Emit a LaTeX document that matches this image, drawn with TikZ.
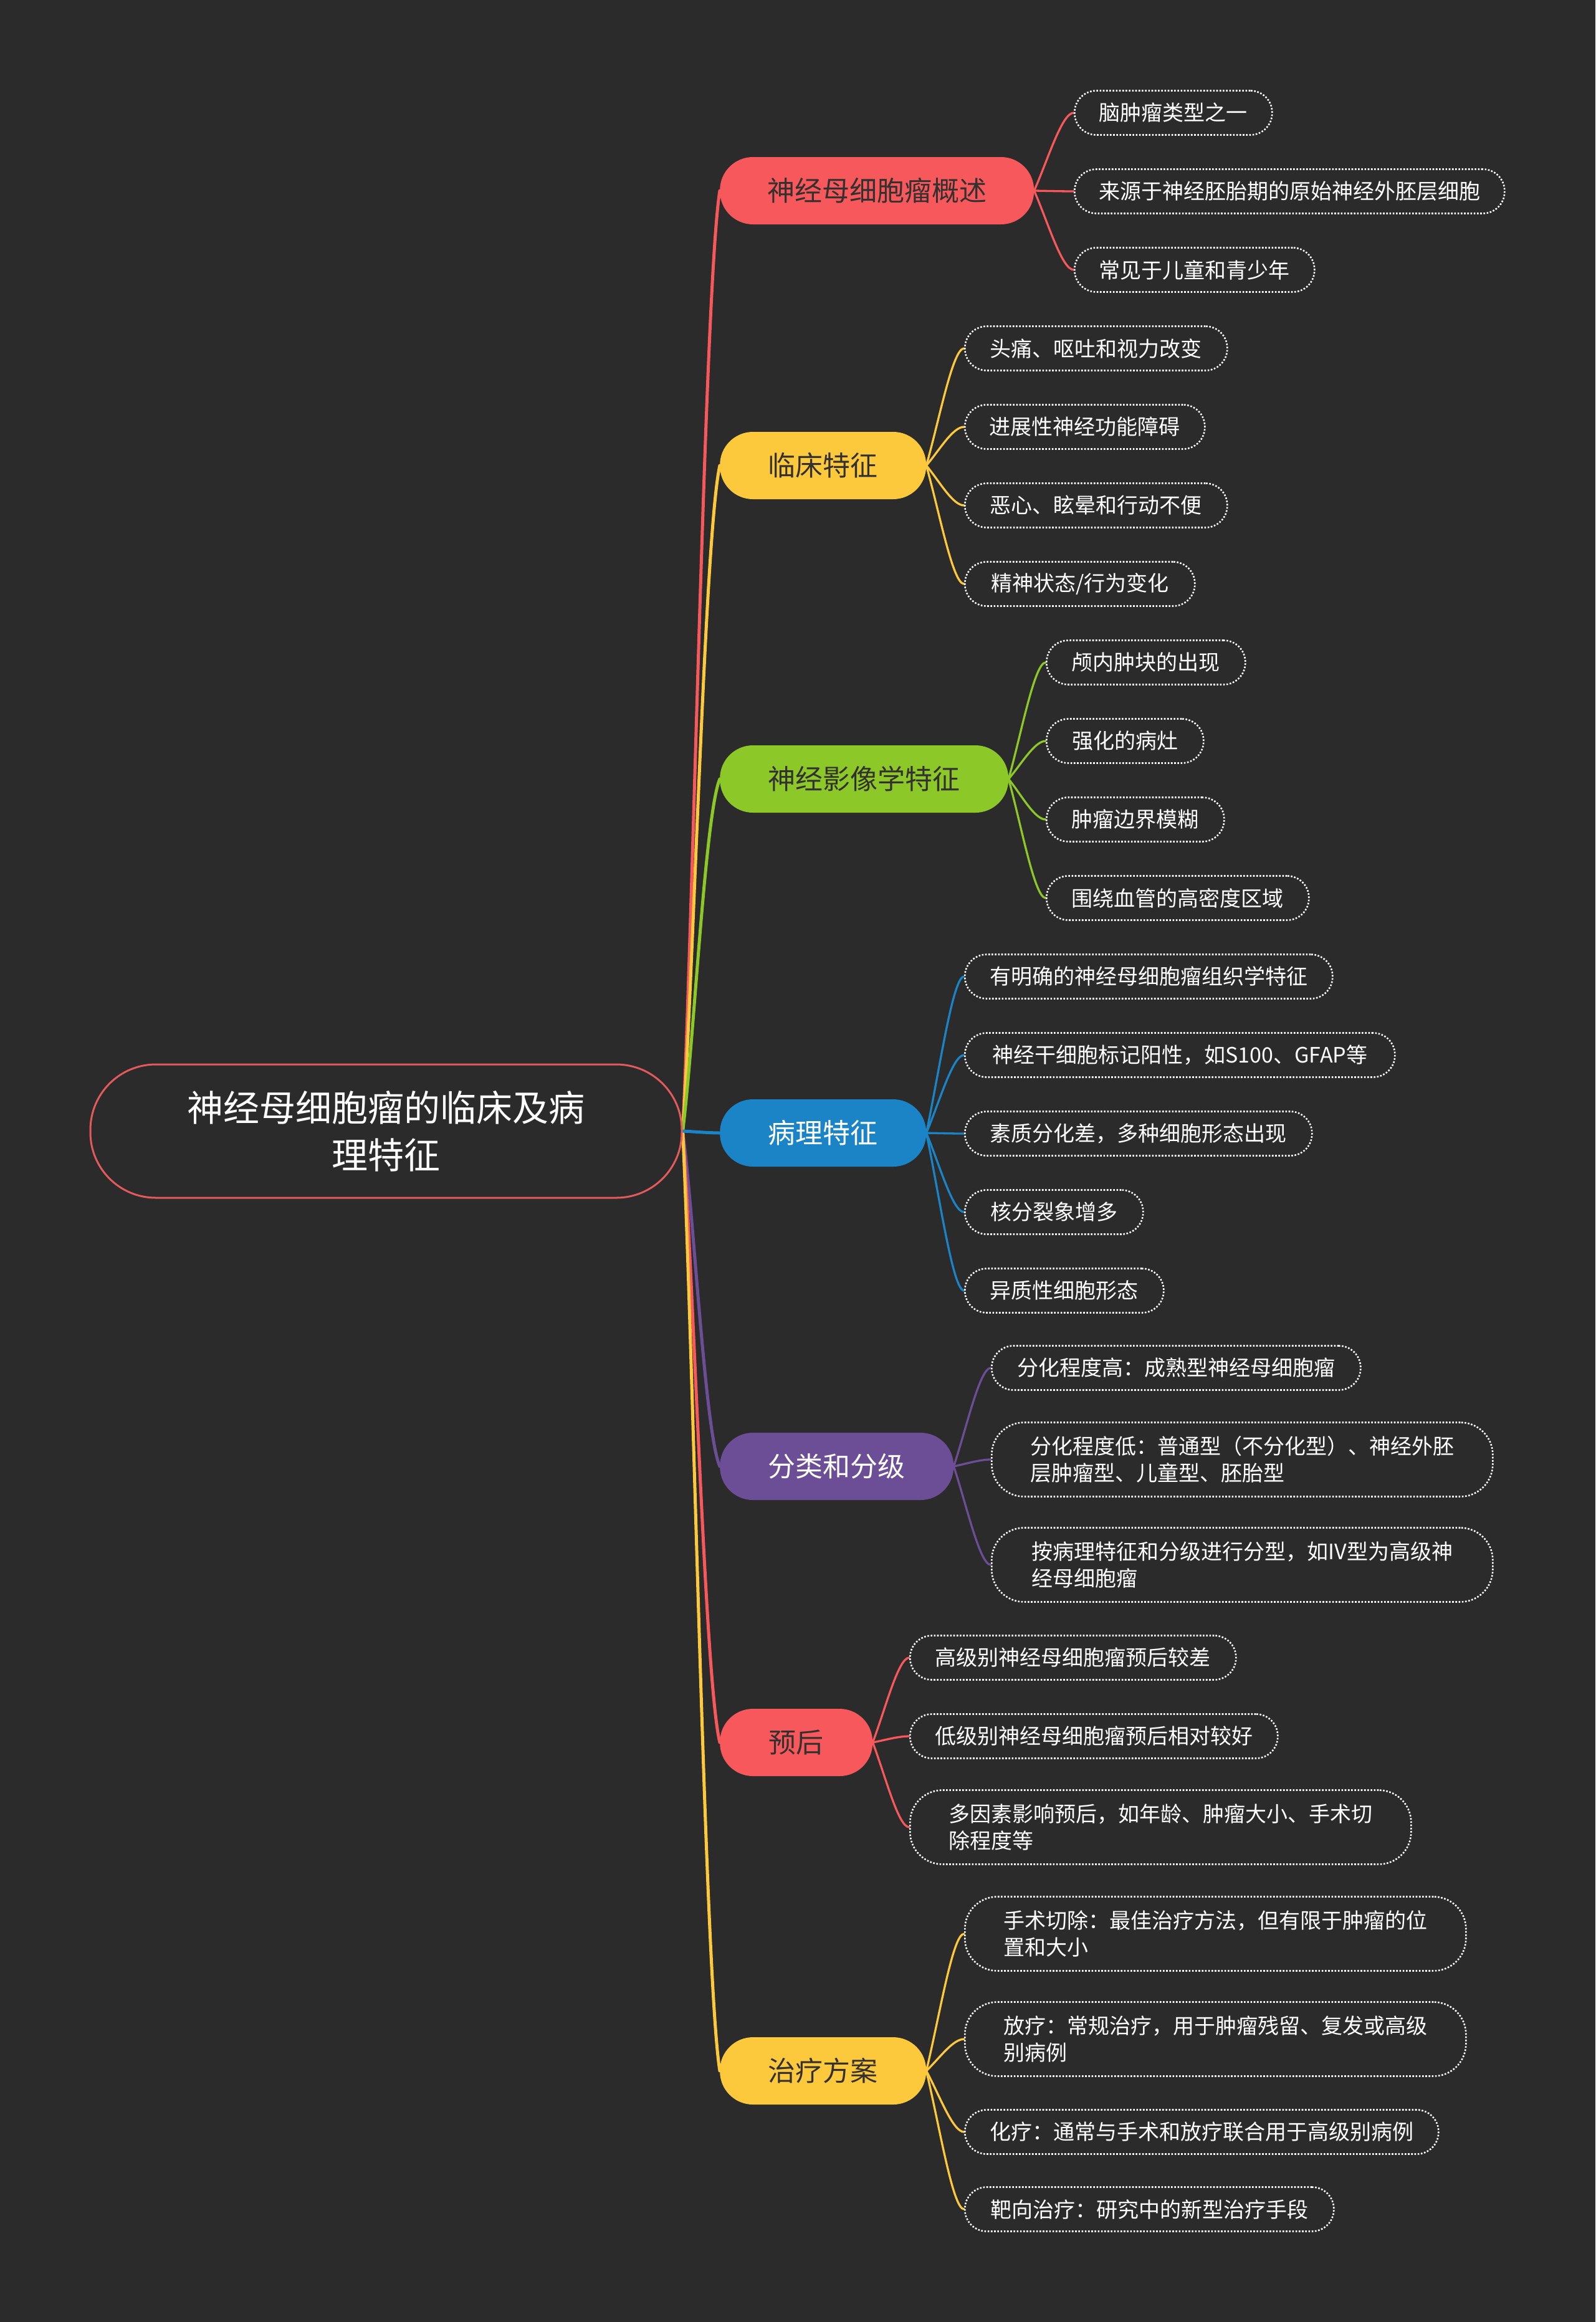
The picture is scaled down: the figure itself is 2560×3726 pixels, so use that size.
\documentclass[tikz,border=0pt]{standalone}
\usepackage{fontspec}
\setmainfont{Noto Sans CJK SC}
\usetikzlibrary{calc}
\definecolor{bgc}{HTML}{2B2B2B}
\definecolor{cred}{HTML}{F7585B}
\definecolor{cyel}{HTML}{FDC93C}
\definecolor{cgrn}{HTML}{8CC828}
\definecolor{cblu}{HTML}{1A84C7}
\definecolor{cpur}{HTML}{6C4E96}
\definecolor{rootred}{HTML}{E45A5C}
\definecolor{darktxt}{HTML}{333030}
\pgfdeclarelayer{bgl}
\pgfdeclarelayer{edgel}
\pgfsetlayers{bgl,edgel,main}
\tikzset{
  leaf/.style={draw=white, line width=2.6pt, dash pattern=on 2.6pt off 2.6pt,
    rounded corners=35pt, minimum height=71pt, inner xsep=20pt, inner ysep=0pt,
    text=white, font=\fontsize{34pt}{43pt}\selectfont, anchor=west, fill=bgc},
  leafm/.style={leaf, rounded corners=52pt, minimum height=119pt, align=left},
  branch/.style={rounded corners=53pt, minimum height=108pt, inner xsep=20pt,
    font=\fontsize{44pt}{52pt}\selectfont, anchor=west},
  rootnode/.style={draw=rootred, line width=3pt, rounded corners=105pt,
    minimum width=949pt, minimum height=214pt, text=white, align=center,
    fill=bgc, font=\fontsize{58pt}{76pt}\selectfont},
  rootedge/.style={line width=5pt, line cap=round},
  leafedge/.style={line width=3.3pt, line cap=round},
}
\newcommand\rootlink[2]{%
  \draw[rootedge,#2] let \p1=(root.east), \p2=(#1.west) in
    (\p1) .. controls ($(\p1)+({0.3*(\x2-\x1)},{0.25*(\y2-\y1)})$)
    and ($(\p1)+({0.6*(\x2-\x1)},{0.9*(\y2-\y1)})$) .. (\p2);}
\newcommand\leaflink[3]{%
  \draw[leafedge,#3] let \p1=(#1.east), \p2=(#2.west) in
    (\p1) .. controls ($(\p1)+({0.35*(\x2-\x1)},{0.4*(\y2-\y1)})$)
    and ($(\p1)+({0.7*(\x2-\x1)},{\y2-\y1})$) .. (\p2);}
\begin{document}
\begin{tikzpicture}[x=1pt,y=-1pt]
\useasboundingbox (0,0) rectangle (2560,3726);
\begin{pgfonlayer}{bgl}
\fill[bgc] (0,0) rectangle (2560,3726);
\end{pgfonlayer}

% root
\node[rootnode] (root) at (619.5,1815) {神经母细胞瘤的临床及病\\理特征};

% branches
\node[branch, fill=cred, text=darktxt, minimum width=504pt] (b1) at (1155,306) {神经母细胞瘤概述};
\node[branch, fill=cyel, text=darktxt, minimum width=331pt] (b2) at (1155,747) {临床特征};
\node[branch, fill=cgrn, text=darktxt, minimum width=463pt] (b3) at (1155,1250) {神经影像学特征};
\node[branch, fill=cblu, text=white, minimum width=331pt] (b4) at (1155,1818) {病理特征};
\node[branch, fill=cpur, text=white, minimum width=375pt] (b5) at (1155,2353) {分类和分级};
\node[branch, fill=cred, text=darktxt, minimum width=245pt] (b6) at (1155,2796) {预后};
\node[branch, fill=cyel, text=darktxt, minimum width=331pt] (b7) at (1155,3323) {治疗方案};

% leaves
\node[leaf, minimum width=317pt] (l11) at (1723,181) {脑肿瘤类型之一};
\node[leaf, minimum width=690pt] (l12) at (1723,307) {来源于神经胚胎期的原始神经外胚层细胞};
\node[leaf, minimum width=385pt] (l13) at (1723,433) {常见于儿童和青少年};

\node[leaf, minimum width=421pt] (l21) at (1547,559) {头痛、呕吐和视力改变};
\node[leaf, minimum width=385pt] (l22) at (1547,685) {进展性神经功能障碍};
\node[leaf, minimum width=421pt] (l23) at (1547,811) {恶心、眩晕和行动不便};
\node[leaf, minimum width=369pt] (l24) at (1547,937) {精神状态/行为变化};

\node[leaf, minimum width=319pt] (l31) at (1678,1063) {颅内肿块的出现};
\node[leaf, minimum width=252pt] (l32) at (1678,1189) {强化的病灶};
\node[leaf, minimum width=285pt] (l33) at (1678,1315) {肿瘤边界模糊};
\node[leaf, minimum width=421pt] (l34) at (1678,1441) {围绕血管的高密度区域};

\node[leaf, minimum width=590pt] (l41) at (1547,1567) {有明确的神经母细胞瘤组织学特征};
\node[leaf, minimum width=690pt] (l42) at (1547,1693) {神经干细胞标记阳性，如S100、GFAP等};
\node[leaf, minimum width=557pt] (l43) at (1547,1819) {素质分化差，多种细胞形态出现};
\node[leaf, minimum width=286pt] (l44) at (1547,1945) {核分裂象增多};
\node[leaf, minimum width=319pt] (l45) at (1547,2071) {异质性细胞形态};

\node[leaf, minimum width=592pt] (l51) at (1590,2195) {分化程度高：成熟型神经母细胞瘤};
\node[leafm, minimum width=804pt] (l52) at (1590,2342) {分化程度低：普通型（不分化型）、神经外胚\\层肿瘤型、儿童型、胚胎型};
\node[leafm, minimum width=804pt] (l53) at (1590,2511) {按病理特征和分级进行分型，如IV型为高级神\\经母细胞瘤};

\node[leaf, minimum width=523pt] (l61) at (1459,2660) {高级别神经母细胞瘤预后较差};
\node[leaf, minimum width=590pt] (l62) at (1459,2786) {低级别神经母细胞瘤预后相对较好};
\node[leafm, minimum width=804pt] (l63) at (1459,2932) {多因素影响预后，如年龄、肿瘤大小、手术切\\除程度等};

\node[leafm, minimum width=804pt] (l71) at (1547,3103) {手术切除：最佳治疗方法，但有限于肿瘤的位\\置和大小};
\node[leafm, minimum width=804pt] (l72) at (1547,3272) {放疗：常规治疗，用于肿瘤残留、复发或高级\\别病例};
\node[leaf, minimum width=760pt] (l73) at (1547,3421) {化疗：通常与手术和放疗联合用于高级别病例};
\node[leaf, minimum width=592pt] (l74) at (1547,3545) {靶向治疗：研究中的新型治疗手段};

\begin{pgfonlayer}{edgel}
\rootlink{b1}{cred}
\rootlink{b2}{cyel}
\rootlink{b3}{cgrn}
\rootlink{b5}{cpur}
\rootlink{b6}{cred}
\rootlink{b7}{cyel}
\rootlink{b4}{cblu}

\leaflink{b1}{l11}{cred}
\leaflink{b1}{l12}{cred}
\leaflink{b1}{l13}{cred}
\leaflink{b2}{l21}{cyel}
\leaflink{b2}{l22}{cyel}
\leaflink{b2}{l23}{cyel}
\leaflink{b2}{l24}{cyel}
\leaflink{b3}{l31}{cgrn}
\leaflink{b3}{l32}{cgrn}
\leaflink{b3}{l33}{cgrn}
\leaflink{b3}{l34}{cgrn}
\leaflink{b4}{l41}{cblu}
\leaflink{b4}{l42}{cblu}
\leaflink{b4}{l43}{cblu}
\leaflink{b4}{l44}{cblu}
\leaflink{b4}{l45}{cblu}
\leaflink{b5}{l51}{cpur}
\leaflink{b5}{l52}{cpur}
\leaflink{b5}{l53}{cpur}
\leaflink{b6}{l61}{cred}
\leaflink{b6}{l62}{cred}
\leaflink{b6}{l63}{cred}
\leaflink{b7}{l71}{cyel}
\leaflink{b7}{l72}{cyel}
\leaflink{b7}{l73}{cyel}
\leaflink{b7}{l74}{cyel}
\end{pgfonlayer}
\end{tikzpicture}
\end{document}
